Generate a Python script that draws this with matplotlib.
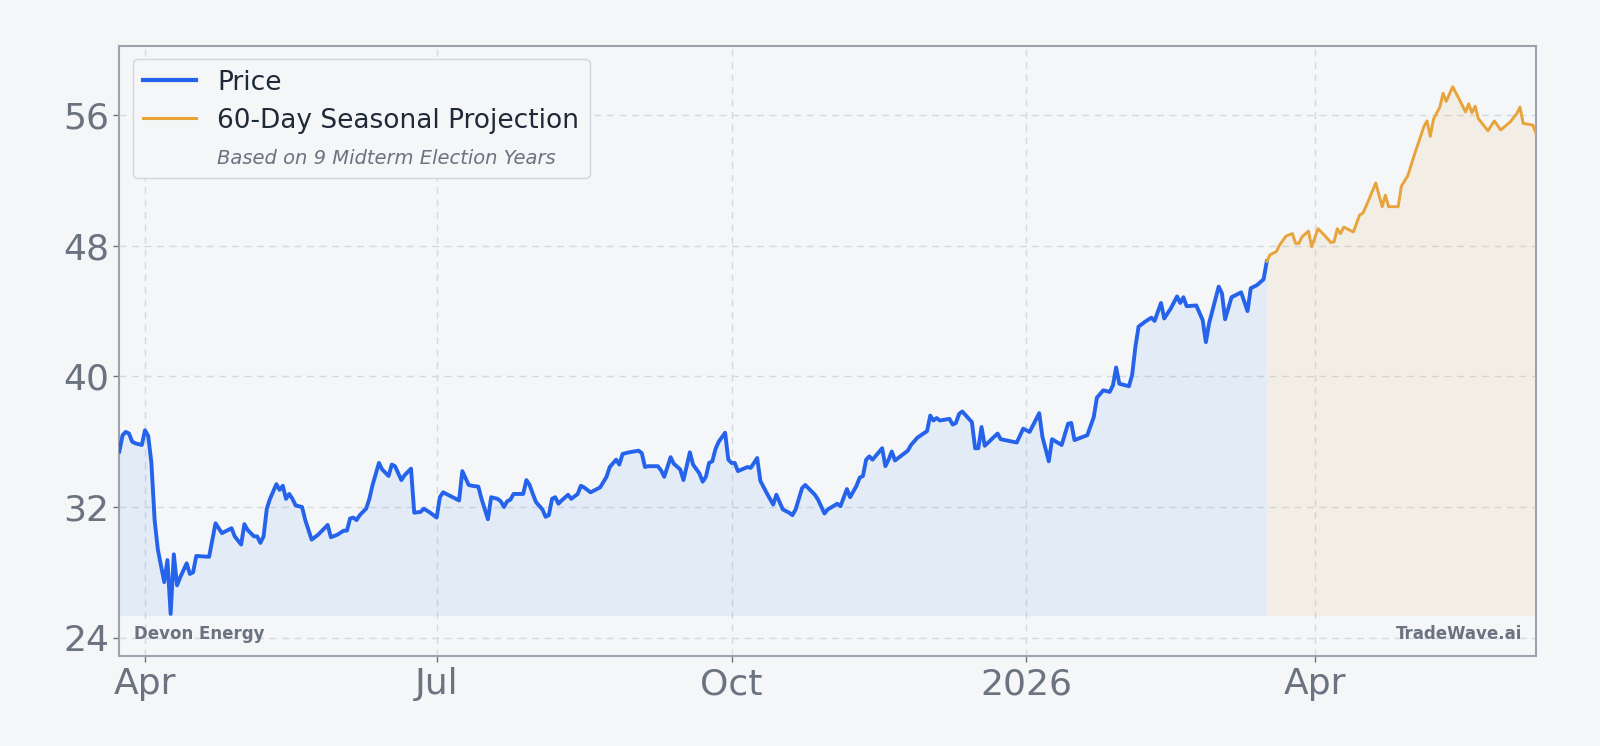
#importing modules
import matplotlib
matplotlib.use("Agg")
import matplotlib.pyplot as plt
import matplotlib.dates as mdates
from matplotlib.lines import Line2D
import pandas as pd

#price data: calendar days after 2025-03-24 and closing price
start_date = "2025-03-24"
price_days = [0, 1, 2, 3, 4, 5, 7, 8, 9, 10, 11, 12, 14, 15, 16, 17, 18, 19, 21, 22, 23, 24, 28, 30,
              32, 35, 36, 38, 39, 40, 42, 43, 44, 45, 46, 47, 49, 50, 51, 52, 53, 54, 55, 57, 58, 60,
              62, 65, 66, 68, 70, 71, 72, 73, 74, 75, 77, 78, 79, 81, 82, 84, 85, 86, 88, 89, 91, 92,
              94, 95, 97, 99, 100, 101, 104, 106, 107, 109, 110, 112, 113, 115, 116, 118, 119, 120,
              121, 122, 123, 126, 127, 128, 129, 130, 132, 133, 134, 135, 136, 137, 138, 140, 141,
              143, 144, 145, 146, 147, 149, 150, 152, 153, 155, 156, 157, 159, 162, 163, 164, 165,
              168, 169, 170, 172, 173, 175, 176, 178, 179, 181, 182, 183, 184, 185, 186, 187, 189,
              190, 191, 192, 193, 196, 197, 199, 200, 202, 204, 205, 207, 209, 210, 211, 213, 214,
              217, 218, 220, 221, 224, 225, 227, 228, 230, 231, 232, 233, 234, 235, 238, 239, 240,
              241, 242, 246, 247, 249, 252, 253, 254, 255, 256, 259, 260, 261, 262, 263, 266, 267,
              268, 269, 270, 274, 275, 280, 282, 284, 287, 288, 290, 291, 294, 296, 297, 298, 302,
              304, 305, 307, 309, 310, 311, 312, 315, 316, 317, 318, 320, 322, 323, 325, 326, 328,
              330, 331, 332, 333, 336, 338, 339, 340, 343, 344, 345, 347, 350, 352, 353, 355, 357, 358]
price_vals = [35.4, 36.4, 36.6, 36.5, 36.0, 35.9, 35.8, 36.7, 36.35, 34.7, 31.2, 29.4, 27.4, 28.75,
              25.45, 29.1, 27.2, 27.7, 28.55, 27.9, 28.0, 29.0, 28.95, 31.0,
              30.4, 30.7, 30.2, 29.7, 30.95, 30.6, 30.2, 30.2, 29.8, 30.2, 31.9, 32.5, 33.4, 33.05,
              33.3, 32.5, 32.8, 32.5, 32.1, 32.0, 31.2, 30.0,
              30.3, 30.9, 30.15, 30.3, 30.55, 30.55, 31.3, 31.35, 31.2, 31.5, 31.9, 32.5, 33.35,
              34.7, 34.3, 33.9, 34.6, 34.5, 33.65, 33.95, 34.35, 31.65,
              31.7, 31.9, 31.65, 31.35, 32.6, 32.9, 32.6, 32.4, 34.2, 33.35, 33.3, 33.25, 32.5,
              31.25, 32.6, 32.5, 32.35, 32.0,
              32.35, 32.45, 32.8, 32.8, 33.65, 33.35, 32.8, 32.3, 31.85, 31.4, 31.5, 32.5, 32.6,
              32.2, 32.4, 32.75, 32.5,
              32.8, 33.3, 33.2, 33.05, 32.9, 33.1, 33.2, 33.85, 34.45, 34.9, 34.6, 35.25, 35.35,
              35.45, 35.3, 34.45, 34.5,
              34.5, 34.25, 33.85, 35.05, 34.65, 34.3, 33.65, 35.35, 34.6, 34.05, 33.55, 33.85,
              34.7, 34.8, 35.55, 36.0, 36.55,
              34.9, 34.7, 34.7, 34.2, 34.45, 34.4, 35.0, 33.6, 32.85, 32.15, 32.75, 31.85, 31.65,
              31.5, 31.85, 33.15, 33.35,
              32.75, 32.45, 31.6, 31.85, 32.2, 32.05, 33.1, 32.6, 33.3, 33.8, 33.9, 34.9, 35.1,
              34.9, 35.6, 34.5, 34.9,
              35.4, 34.85, 35.45, 35.8, 36.25, 36.65, 37.6, 37.3, 37.45, 37.3, 37.4, 37.05, 37.15,
              37.7, 37.85, 37.2, 35.6,
              35.6, 36.9, 35.75, 36.5, 36.15, 35.95, 36.8, 36.6, 37.75, 36.3, 34.8, 36.15, 35.8,
              37.1, 37.15, 36.1, 36.4,
              37.5, 38.7, 39.15, 39.05, 39.45, 40.55, 39.55, 39.4, 40.1, 41.8, 43.05, 43.35, 43.6,
              43.4, 44.5, 43.55, 44.15,
              44.9, 44.5, 44.85, 44.3, 44.35, 43.45, 42.1, 43.25, 45.5, 45.1, 43.5, 44.85, 45.15,
              44.0, 45.4, 45.6, 45.95, 47.05]

#60 day seasonal projection
proj_days = [358, 359, 361, 362, 364, 366, 367, 368, 369, 371, 372, 374, 376, 378, 379, 380, 381,
             382, 385, 387, 388, 390, 392, 394, 395, 396, 399, 400, 402, 404, 406, 407, 408, 409,
             410, 412, 413, 414, 416, 418, 420, 421, 422, 423, 424, 427, 429, 431, 434, 436, 437,
             438, 441, 442]
proj_vals = [47.05, 47.45, 47.65, 48.05, 48.6, 48.75, 48.15, 48.15, 48.55, 48.9, 47.95, 49.05,
             48.65, 48.2, 48.25, 49.05, 48.75, 49.15, 48.85, 49.9, 50.0, 50.9, 51.85, 50.4, 51.1,
             50.4, 50.4, 51.65, 52.3, 53.55, 54.7, 55.3, 55.65, 54.7, 55.75, 56.5, 57.35, 56.85,
             57.75, 57.0, 56.2, 56.7, 56.15, 56.55, 55.8, 55.05, 55.65, 55.1, 55.6, 56.1, 56.5,
             55.5, 55.4, 54.9]

y_ticks = [24, 32, 40, 48, 56]

#colours
bg = "#f4f6f8"
blue = "#2563eb"
orange = "#e8a33a"
gray = "#6b7280"

t0 = pd.Timestamp(start_date)
price_dates = t0 + pd.to_timedelta(price_days, unit="D")
proj_dates = t0 + pd.to_timedelta(proj_days, unit="D")
base = min(price_vals) - 0.1

#creating the figure
fig = plt.figure(figsize=(16, 7.46), dpi=100, facecolor=bg)
ax = fig.add_axes([0.0746, 0.1206, 0.8854, 0.8179])
ax.set_facecolor(bg)

ax.fill_between(price_dates, price_vals, base, color="#3b82f6", alpha=0.09, linewidth=0)
ax.fill_between(proj_dates, proj_vals, base, color=orange, alpha=0.09, linewidth=0)
ax.plot(price_dates, price_vals, color=blue, linewidth=2.8, zorder=3)
ax.plot(proj_dates, proj_vals, color=orange, linewidth=2.1, zorder=3)

ax.set_xlim(price_dates[0], proj_dates[-1])
ax.set_ylim(22.87, 60.25)
ax.set_yticks(y_ticks)

ax.xaxis.set_major_locator(mdates.MonthLocator(bymonth=[1, 4, 7, 10]))
ax.xaxis.set_major_formatter(plt.FuncFormatter(
    lambda v, p: mdates.num2date(v).strftime("%Y" if mdates.num2date(v).month == 1 else "%b")))

ax.grid(True, color="#d5d9e0", linestyle=(0, (5, 4)), linewidth=1)
ax.set_axisbelow(True)
ax.tick_params(labelsize=26, colors=gray, length=4, width=1)
ax.tick_params(axis="x", pad=4)
for s in ax.spines.values():
    s.set_color("#9ca3af")
    s.set_linewidth(1.5)

#legend with a note line
handles = [Line2D([], [], color=blue, linewidth=3),
           Line2D([], [], color=orange, linewidth=2.2),
           Line2D([], [], color="none")]
leg = ax.legend(handles, ["Price", "60-Day Seasonal Projection", "Based on 9 Midterm Election Years"],
                loc="upper left", fontsize=19, frameon=True, facecolor=bg, edgecolor="#d1d5db",
                framealpha=1, borderpad=0.4, labelspacing=0.45, handlelength=2.0,
                handletextpad=0.8, bbox_to_anchor=(0.0, 1.0), borderaxespad=0.5)
for txt in leg.get_texts():
    txt.set_color("#1f2937")
note = leg.get_texts()[2]
note.set_fontsize(14)
note.set_fontstyle("italic")
note.set_color(gray)

ax.text(0.01, 0.022, "Devon Energy", transform=ax.transAxes, fontsize=12,
        fontweight="bold", color=gray, ha="left", va="bottom")
ax.text(0.99, 0.022, "TradeWave.ai", transform=ax.transAxes, fontsize=12,
        fontweight="bold", color=gray, ha="right", va="bottom")

fig.savefig("out.png", dpi=100, facecolor=bg)
